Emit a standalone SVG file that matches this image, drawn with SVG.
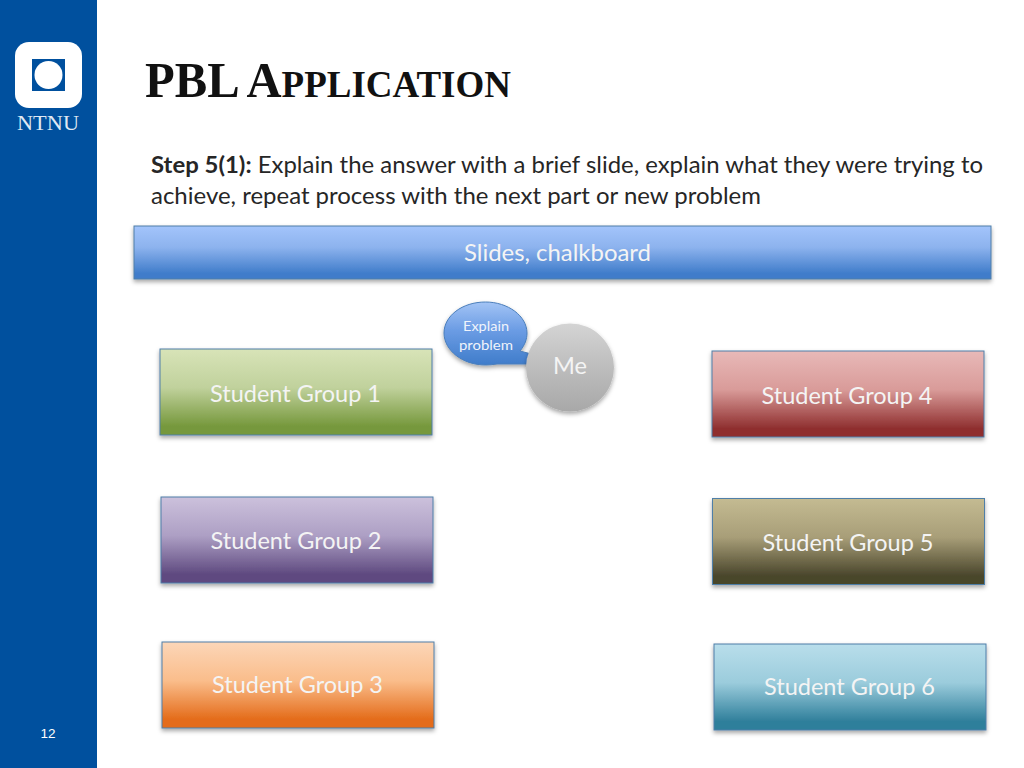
<svg xmlns="http://www.w3.org/2000/svg" width="1024" height="768" viewBox="0 0 1024 768">
<defs>
<linearGradient id="gB" x1="0" y1="0" x2="0" y2="1"><stop offset="0" stop-color="#a3c4fb"/><stop offset="0.4" stop-color="#8db3ee"/><stop offset="0.9" stop-color="#3f7cca"/><stop offset="1" stop-color="#3f7cca"/></linearGradient>
<linearGradient id="gE" x1="0" y1="0" x2="0" y2="1"><stop offset="0" stop-color="#a3c4f5"/><stop offset="0.45" stop-color="#6b9ce4"/><stop offset="1" stop-color="#3f7cca"/></linearGradient>
<linearGradient id="g1" x1="0" y1="0" x2="0" y2="1"><stop offset="0" stop-color="#d8e4b8"/><stop offset="0.45" stop-color="#c0d19c"/><stop offset="0.9" stop-color="#76983c"/><stop offset="1" stop-color="#76983c"/></linearGradient>
<linearGradient id="g2" x1="0" y1="0" x2="0" y2="1"><stop offset="0" stop-color="#ccc1dc"/><stop offset="0.45" stop-color="#ad9fc4"/><stop offset="0.9" stop-color="#5f4a80"/><stop offset="1" stop-color="#5f4a80"/></linearGradient>
<linearGradient id="g3" x1="0" y1="0" x2="0" y2="1"><stop offset="0" stop-color="#fcd6b8"/><stop offset="0.45" stop-color="#fabd8b"/><stop offset="0.9" stop-color="#e46c1a"/><stop offset="1" stop-color="#e46c1a"/></linearGradient>
<linearGradient id="g4" x1="0" y1="0" x2="0" y2="1"><stop offset="0" stop-color="#e8b9b8"/><stop offset="0.45" stop-color="#d99b99"/><stop offset="0.9" stop-color="#8f2f2f"/><stop offset="1" stop-color="#8f2f2f"/></linearGradient>
<linearGradient id="g5" x1="0" y1="0" x2="0" y2="1"><stop offset="0" stop-color="#c4bb92"/><stop offset="0.45" stop-color="#a89e78"/><stop offset="0.9" stop-color="#4a462c"/><stop offset="1" stop-color="#4a462c"/></linearGradient>
<linearGradient id="g6" x1="0" y1="0" x2="0" y2="1"><stop offset="0" stop-color="#b9deeb"/><stop offset="0.45" stop-color="#9bccdc"/><stop offset="0.9" stop-color="#2f7f9b"/><stop offset="1" stop-color="#2f7f9b"/></linearGradient>
<linearGradient id="gM" x1="0" y1="0" x2="0" y2="1"><stop offset="0" stop-color="#d4d4d4"/><stop offset="0.5" stop-color="#bdbdbd"/><stop offset="1" stop-color="#a8a8a8"/></linearGradient>
<filter id="sh" x="-5%" y="-10%" width="110%" height="125%"><feDropShadow dx="0" dy="2.500" stdDeviation="2" flood-color="#000" flood-opacity="0.35"/></filter>
</defs>
<style>
.box{stroke:#4f7fa8;stroke-width:1;filter:url(#sh)}
.lbl{font-family:"Lato","Open Sans",sans-serif;font-size:23px;fill:#f4f4f4;text-anchor:middle}
.body{font-family:"Lato","Open Sans",sans-serif;font-size:23.5px;fill:#262626}
.sm{font-family:"Lato","Open Sans",sans-serif;font-size:14px;fill:#f0f4fb;text-anchor:middle}
</style>
<rect width="1024" height="768" fill="#fff"/>
<rect id="sidebar" width="97" height="768" fill="#00509e"/>
<g id="logo">
<rect x="15" y="42" width="67" height="66" rx="14" fill="#fff"/>
<rect x="32" y="59" width="33" height="32" fill="#00509e"/>
<circle cx="48.500" cy="75" r="14" fill="#fff"/>
<text x="48" y="130" font-family="Liberation Serif,serif" font-size="21" fill="#dfe8f3" text-anchor="middle" textLength="62" lengthAdjust="spacingAndGlyphs">NTNU</text>
</g>
<text x="48" y="738" font-family="Liberation Sans,sans-serif" font-size="13.500" fill="#fff" text-anchor="middle">12</text>
<text x="145" y="97" font-family="Liberation Serif,serif" font-weight="bold" font-size="50" fill="#111" textLength="366" lengthAdjust="spacingAndGlyphs">PBL A<tspan font-size="38">PPLICATION</tspan></text>
<text class="body" x="151" y="172.500" textLength="832" lengthAdjust="spacingAndGlyphs"><tspan font-weight="bold">Step 5(1):</tspan> Explain the answer with a brief slide, explain what they were trying to</text>
<text class="body" x="151" y="203.500" textLength="610" lengthAdjust="spacingAndGlyphs">achieve, repeat process with the next part or new problem</text>
<g id="slides"><rect class="box" x="134" y="226" width="857" height="53" fill="url(#gB)"/><text class="lbl" x="557.500" y="261" textLength="187" lengthAdjust="spacingAndGlyphs">Slides, chalkboard</text></g>
<g id="explain">
<path d="M485.500 302C508 302 527 316 527 333C527 339 525 345 520 351L535 355L535 364L497 364Q491 365 485.500 365C462 365 444 350 444 333C444 316 462 302 485.500 302Z" fill="url(#gE)" stroke="#4a7ebb" filter="url(#sh)"/>
<text class="sm" x="486" y="331" textLength="46" lengthAdjust="spacingAndGlyphs">Explain</text>
<text class="sm" x="486" y="350" textLength="54" lengthAdjust="spacingAndGlyphs">problem</text>
</g>
<g id="me"><circle cx="570" cy="367.500" r="44" fill="url(#gM)" filter="url(#sh)"/><text x="570" y="374" font-family="Lato,sans-serif" font-size="24" fill="#f4f4f4" text-anchor="middle" textLength="34" lengthAdjust="spacingAndGlyphs">Me</text></g>
<g id="g-1"><rect class="box" x="160" y="349" width="272" height="86" fill="url(#g1)"/><text class="lbl" x="295.500" y="402" textLength="171" lengthAdjust="spacingAndGlyphs">Student Group 1</text></g>
<g id="g-2"><rect class="box" x="161" y="497" width="272" height="86" fill="url(#g2)"/><text class="lbl" x="296" y="549" textLength="171" lengthAdjust="spacingAndGlyphs">Student Group 2</text></g>
<g id="g-3"><rect class="box" x="162" y="642" width="272" height="86" fill="url(#g3)"/><text class="lbl" x="297.500" y="693" textLength="171" lengthAdjust="spacingAndGlyphs">Student Group 3</text></g>
<g id="g-4"><rect class="box" x="712" y="351" width="272" height="86" fill="url(#g4)"/><text class="lbl" x="847" y="404" textLength="171" lengthAdjust="spacingAndGlyphs">Student Group 4</text></g>
<g id="g-5"><rect class="box" x="712.500" y="498.500" width="272" height="86" fill="url(#g5)"/><text class="lbl" x="848" y="551" textLength="171" lengthAdjust="spacingAndGlyphs">Student Group 5</text></g>
<g id="g-6"><rect class="box" x="714" y="644" width="272" height="86" fill="url(#g6)"/><text class="lbl" x="849.500" y="695" textLength="171" lengthAdjust="spacingAndGlyphs">Student Group 6</text></g>
<g id="connectors"/>
</svg>
